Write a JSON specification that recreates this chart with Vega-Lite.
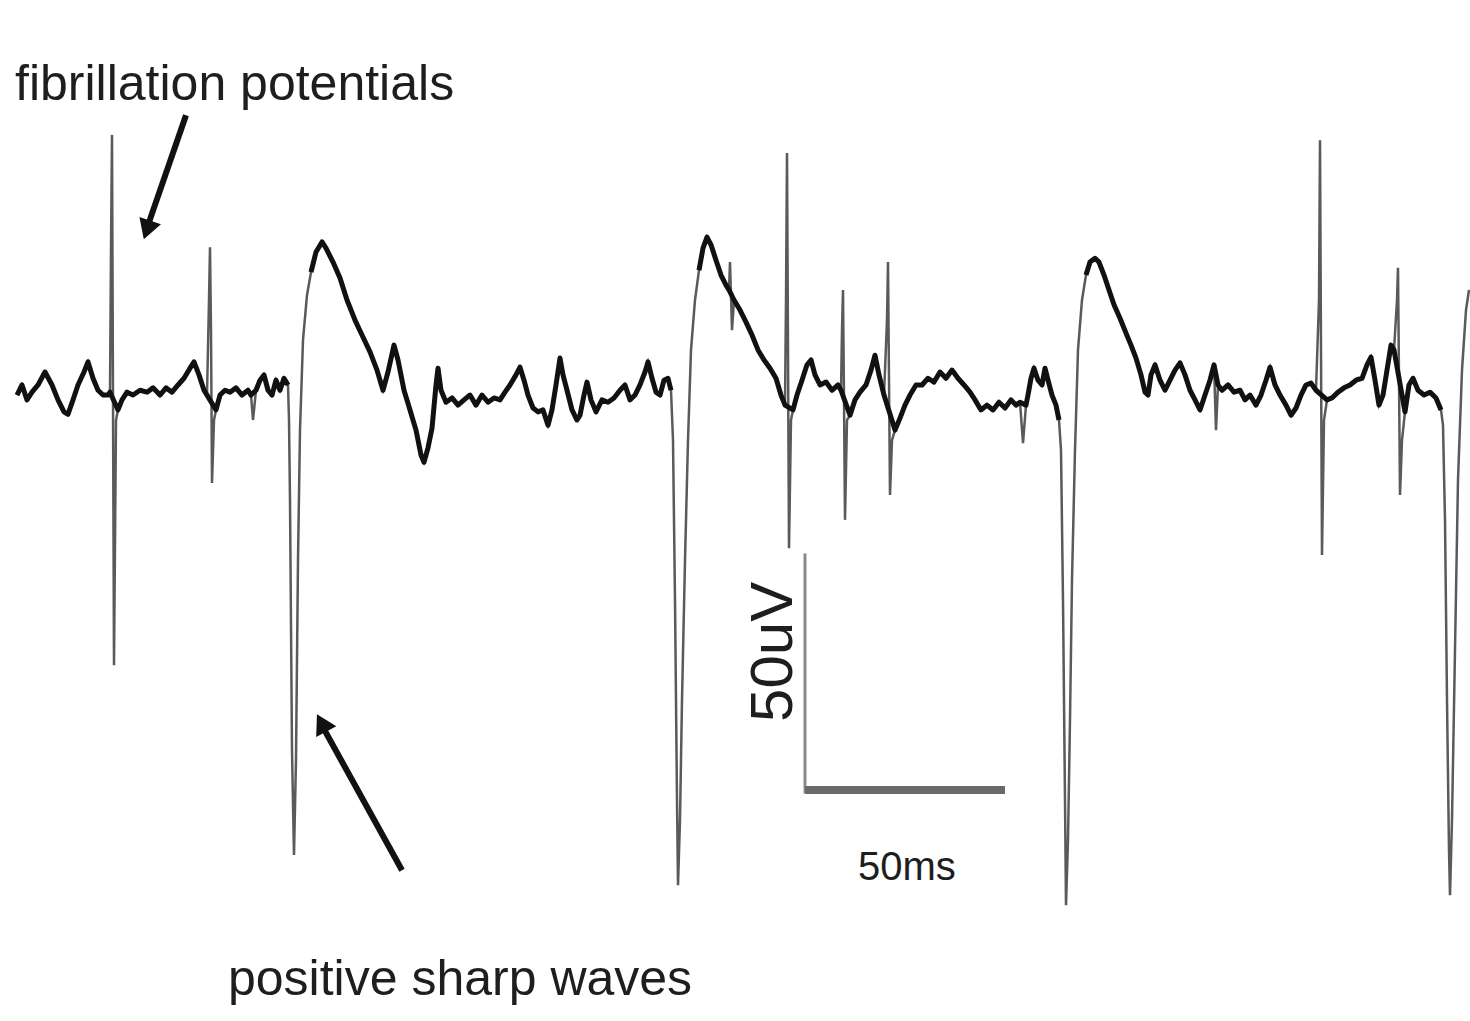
{
  "$schema": "https://vega.github.io/schema/vega-lite/v6.json",
  "width": 1470,
  "height": 1021,
  "autosize": {"type": "fit", "contains": "padding"},
  "padding": 0,
  "background": "white",
  "config": {"view": {"stroke": null}},
  "datasets": {
    "trace": [
      {"t":4.25,"v":0,"phase":"slow","run":1},
      {"t":5.5,"v":2.1,"phase":"slow","run":1},
      {"t":6.75,"v":-1.0,"phase":"slow","run":1},
      {"t":8,"v":0.6,"phase":"slow","run":1},
      {"t":9.5,"v":2.1,"phase":"slow","run":1},
      {"t":11.25,"v":4.8,"phase":"slow","run":1},
      {"t":13,"v":2.1,"phase":"slow","run":1},
      {"t":14.5,"v":-1.0,"phase":"slow","run":1},
      {"t":16,"v":-3.5,"phase":"slow","run":1},
      {"t":17,"v":-4.0,"phase":"slow","run":1},
      {"t":18.25,"v":-1.0,"phase":"slow","run":1},
      {"t":19.5,"v":2.1,"phase":"slow","run":1},
      {"t":21,"v":4.8,"phase":"slow","run":1},
      {"t":22,"v":6.9,"phase":"slow","run":1},
      {"t":23.25,"v":3.5,"phase":"slow","run":1},
      {"t":24.5,"v":1.0,"phase":"slow","run":1},
      {"t":25.75,"v":0,"phase":"slow","run":1},
      {"t":27,"v":0,"phase":"slow","run":1},
      {"t":27.5,"v":0.6,"phase":"slow","run":1},
      {"t":27.75,"v":30.2,"phase":"fast","run":1},
      {"t":28,"v":54.2,"phase":"fast","run":1},
      {"t":28.25,"v":-1.0,"phase":"fast","run":1},
      {"t":28.5,"v":-56.3,"phase":"fast","run":1},
      {"t":29,"v":-5.2,"phase":"fast","run":1},
      {"t":29.5,"v":-3.1,"phase":"slow","run":1},
      {"t":30.5,"v":-1.0,"phase":"slow","run":1},
      {"t":31.75,"v":0.6,"phase":"slow","run":1},
      {"t":33.25,"v":0,"phase":"slow","run":1},
      {"t":35,"v":1.0,"phase":"slow","run":1},
      {"t":36.75,"v":0.6,"phase":"slow","run":1},
      {"t":38.25,"v":1.5,"phase":"slow","run":1},
      {"t":40,"v":0,"phase":"slow","run":1},
      {"t":41.5,"v":1.5,"phase":"slow","run":1},
      {"t":43,"v":0.6,"phase":"slow","run":1},
      {"t":44.5,"v":2.1,"phase":"slow","run":1},
      {"t":46,"v":3.5,"phase":"slow","run":1},
      {"t":47.5,"v":5.6,"phase":"slow","run":1},
      {"t":48.5,"v":6.9,"phase":"slow","run":1},
      {"t":49.75,"v":4.2,"phase":"slow","run":1},
      {"t":51,"v":1.0,"phase":"slow","run":1},
      {"t":51.75,"v":0,"phase":"slow","run":1},
      {"t":52.25,"v":19.8,"phase":"fast","run":1},
      {"t":52.5,"v":30.8,"phase":"fast","run":1},
      {"t":52.75,"v":13.5,"phase":"fast","run":1},
      {"t":53,"v":-18.3,"phase":"fast","run":1},
      {"t":53.5,"v":-5.2,"phase":"fast","run":1},
      {"t":54,"v":-3.1,"phase":"slow","run":1},
      {"t":55,"v":0,"phase":"slow","run":1},
      {"t":56.25,"v":1.0,"phase":"slow","run":1},
      {"t":57.5,"v":0.6,"phase":"slow","run":1},
      {"t":59,"v":1.5,"phase":"slow","run":1},
      {"t":60.5,"v":0,"phase":"slow","run":1},
      {"t":62,"v":1.0,"phase":"slow","run":1},
      {"t":62.75,"v":0,"phase":"slow","run":1},
      {"t":63.25,"v":-5.2,"phase":"fast","run":1},
      {"t":64,"v":1.0,"phase":"slow","run":1},
      {"t":65,"v":3.1,"phase":"slow","run":1},
      {"t":66,"v":4.2,"phase":"slow","run":1},
      {"t":67,"v":1.0,"phase":"slow","run":1},
      {"t":68,"v":0,"phase":"slow","run":1},
      {"t":69,"v":3.1,"phase":"slow","run":1},
      {"t":70,"v":1.0,"phase":"slow","run":1},
      {"t":71,"v":3.5,"phase":"slow","run":1},
      {"t":72,"v":2.1,"phase":"slow","run":1},
      {"t":72.25,"v":-5.2,"phase":"fast","run":1},
      {"t":72.5,"v":-21.9,"phase":"fast","run":1},
      {"t":73,"v":-74.0,"phase":"fast","run":1},
      {"t":73.5,"v":-95.8,"phase":"fast","run":1},
      {"t":74,"v":-76.0,"phase":"fast","run":1},
      {"t":74.5,"v":-34.4,"phase":"fast","run":1},
      {"t":75,"v":-7.3,"phase":"fast","run":1},
      {"t":75.75,"v":11.5,"phase":"fast","run":1},
      {"t":76.75,"v":20.8,"phase":"fast","run":1},
      {"t":77.75,"v":25.6,"phase":"slow","run":2},
      {"t":79,"v":29.8,"phase":"slow","run":2},
      {"t":80.5,"v":31.9,"phase":"slow","run":2},
      {"t":81.5,"v":30.6,"phase":"slow","run":2},
      {"t":83.25,"v":27.7,"phase":"slow","run":2},
      {"t":85,"v":24.4,"phase":"slow","run":2},
      {"t":86.75,"v":19.8,"phase":"slow","run":2},
      {"t":88.75,"v":15.6,"phase":"slow","run":2},
      {"t":90.5,"v":12.5,"phase":"slow","run":2},
      {"t":92.5,"v":9.0,"phase":"slow","run":2},
      {"t":94.25,"v":5.2,"phase":"slow","run":2},
      {"t":95.75,"v":1.0,"phase":"slow","run":2},
      {"t":97,"v":4.8,"phase":"slow","run":2},
      {"t":98.5,"v":10.4,"phase":"slow","run":2},
      {"t":99.5,"v":7.3,"phase":"slow","run":2},
      {"t":101,"v":1.0,"phase":"slow","run":2},
      {"t":102.5,"v":-3.1,"phase":"slow","run":2},
      {"t":104,"v":-7.3,"phase":"slow","run":2},
      {"t":105.25,"v":-12.5,"phase":"slow","run":2},
      {"t":106,"v":-14.0,"phase":"slow","run":2},
      {"t":107,"v":-11.0,"phase":"slow","run":2},
      {"t":108,"v":-6.9,"phase":"slow","run":2},
      {"t":109,"v":2.1,"phase":"slow","run":2},
      {"t":109.5,"v":5.6,"phase":"slow","run":2},
      {"t":110.25,"v":1.0,"phase":"slow","run":2},
      {"t":111.5,"v":-1.5,"phase":"slow","run":2},
      {"t":113,"v":-0.6,"phase":"slow","run":2},
      {"t":114.5,"v":-2.1,"phase":"slow","run":2},
      {"t":116,"v":-1.0,"phase":"slow","run":2},
      {"t":117.5,"v":0,"phase":"slow","run":2},
      {"t":119,"v":-2.1,"phase":"slow","run":2},
      {"t":120.5,"v":0,"phase":"slow","run":2},
      {"t":122,"v":-1.5,"phase":"slow","run":2},
      {"t":123.5,"v":-0.6,"phase":"slow","run":2},
      {"t":125,"v":-1.0,"phase":"slow","run":2},
      {"t":126.25,"v":0.6,"phase":"slow","run":2},
      {"t":127.5,"v":2.1,"phase":"slow","run":2},
      {"t":129,"v":4.2,"phase":"slow","run":2},
      {"t":130,"v":5.8,"phase":"slow","run":2},
      {"t":131,"v":3.1,"phase":"slow","run":2},
      {"t":132,"v":0,"phase":"slow","run":2},
      {"t":133.25,"v":-2.7,"phase":"slow","run":2},
      {"t":134.5,"v":-3.5,"phase":"slow","run":2},
      {"t":135.75,"v":-3.1,"phase":"slow","run":2},
      {"t":137,"v":-6.3,"phase":"slow","run":2},
      {"t":138,"v":-3.1,"phase":"slow","run":2},
      {"t":139,"v":2.1,"phase":"slow","run":2},
      {"t":140,"v":7.7,"phase":"slow","run":2},
      {"t":140.75,"v":4.2,"phase":"slow","run":2},
      {"t":141.75,"v":1.0,"phase":"slow","run":2},
      {"t":143,"v":-3.1,"phase":"slow","run":2},
      {"t":144.25,"v":-5.2,"phase":"slow","run":2},
      {"t":145,"v":-4.2,"phase":"slow","run":2},
      {"t":146,"v":0,"phase":"slow","run":2},
      {"t":146.75,"v":2.7,"phase":"slow","run":2},
      {"t":147.75,"v":-1.0,"phase":"slow","run":2},
      {"t":149,"v":-3.5,"phase":"slow","run":2},
      {"t":150.5,"v":-1.0,"phase":"slow","run":2},
      {"t":152,"v":-1.5,"phase":"slow","run":2},
      {"t":153.5,"v":-0.6,"phase":"slow","run":2},
      {"t":155,"v":1.0,"phase":"slow","run":2},
      {"t":156.25,"v":2.1,"phase":"slow","run":2},
      {"t":157.5,"v":-1.0,"phase":"slow","run":2},
      {"t":158.75,"v":0,"phase":"slow","run":2},
      {"t":160,"v":2.1,"phase":"slow","run":2},
      {"t":161.25,"v":4.8,"phase":"slow","run":2},
      {"t":162,"v":6.9,"phase":"slow","run":2},
      {"t":163,"v":3.5,"phase":"slow","run":2},
      {"t":164,"v":0.6,"phase":"slow","run":2},
      {"t":165,"v":0,"phase":"slow","run":2},
      {"t":166,"v":3.1,"phase":"slow","run":2},
      {"t":167,"v":3.5,"phase":"slow","run":2},
      {"t":167.75,"v":1.0,"phase":"slow","run":2},
      {"t":168.25,"v":-9.4,"phase":"fast","run":2},
      {"t":168.75,"v":-42.7,"phase":"fast","run":2},
      {"t":169.25,"v":-84.4,"phase":"fast","run":2},
      {"t":169.5,"v":-102.1,"phase":"fast","run":2},
      {"t":170,"v":-88.5,"phase":"fast","run":2},
      {"t":170.5,"v":-63.5,"phase":"fast","run":2},
      {"t":171.25,"v":-34.4,"phase":"fast","run":2},
      {"t":172,"v":-9.4,"phase":"fast","run":2},
      {"t":172.75,"v":9.4,"phase":"fast","run":2},
      {"t":173.75,"v":19.8,"phase":"fast","run":2},
      {"t":174.75,"v":26.0,"phase":"slow","run":3},
      {"t":175.75,"v":30.6,"phase":"slow","run":3},
      {"t":176.75,"v":32.9,"phase":"slow","run":3},
      {"t":177.75,"v":31.3,"phase":"slow","run":3},
      {"t":179,"v":28.1,"phase":"slow","run":3},
      {"t":180.25,"v":25.0,"phase":"slow","run":3},
      {"t":181.5,"v":22.9,"phase":"slow","run":3},
      {"t":182.25,"v":21.9,"phase":"slow","run":3},
      {"t":182.5,"v":27.7,"phase":"fast","run":3},
      {"t":183,"v":13.5,"phase":"fast","run":3},
      {"t":183.5,"v":19.8,"phase":"slow","run":3},
      {"t":185,"v":17.7,"phase":"slow","run":3},
      {"t":186.5,"v":15.2,"phase":"slow","run":3},
      {"t":188,"v":12.5,"phase":"slow","run":3},
      {"t":189.5,"v":9.4,"phase":"slow","run":3},
      {"t":191,"v":7.3,"phase":"slow","run":3},
      {"t":192.5,"v":5.6,"phase":"slow","run":3},
      {"t":194,"v":3.5,"phase":"slow","run":3},
      {"t":195.25,"v":0,"phase":"slow","run":3},
      {"t":196.25,"v":-2.1,"phase":"slow","run":3},
      {"t":196.5,"v":19.8,"phase":"fast","run":3},
      {"t":196.75,"v":50.4,"phase":"fast","run":3},
      {"t":197,"v":9.4,"phase":"fast","run":3},
      {"t":197.25,"v":-31.9,"phase":"fast","run":3},
      {"t":197.75,"v":-5.2,"phase":"fast","run":3},
      {"t":198.25,"v":-3.1,"phase":"slow","run":3},
      {"t":199.25,"v":0,"phase":"slow","run":3},
      {"t":200.5,"v":3.1,"phase":"slow","run":3},
      {"t":201.75,"v":6.3,"phase":"slow","run":3},
      {"t":202.75,"v":7.3,"phase":"slow","run":3},
      {"t":203.75,"v":4.2,"phase":"slow","run":3},
      {"t":205,"v":2.1,"phase":"slow","run":3},
      {"t":206.5,"v":2.7,"phase":"slow","run":3},
      {"t":208,"v":1.0,"phase":"slow","run":3},
      {"t":209.5,"v":2.1,"phase":"slow","run":3},
      {"t":210.25,"v":1.0,"phase":"slow","run":3},
      {"t":210.5,"v":13.5,"phase":"fast","run":3},
      {"t":210.75,"v":21.9,"phase":"fast","run":3},
      {"t":211,"v":-1.0,"phase":"fast","run":3},
      {"t":211.25,"v":-26.0,"phase":"fast","run":3},
      {"t":211.75,"v":-5.2,"phase":"fast","run":3},
      {"t":212.5,"v":-4.2,"phase":"slow","run":3},
      {"t":213.75,"v":-1.0,"phase":"slow","run":3},
      {"t":215,"v":0.6,"phase":"slow","run":3},
      {"t":216.5,"v":2.1,"phase":"slow","run":3},
      {"t":217.75,"v":5.2,"phase":"slow","run":3},
      {"t":218.75,"v":8.3,"phase":"slow","run":3},
      {"t":219.75,"v":4.2,"phase":"slow","run":3},
      {"t":221,"v":0,"phase":"slow","run":3},
      {"t":221.75,"v":15.6,"phase":"fast","run":3},
      {"t":222,"v":27.7,"phase":"fast","run":3},
      {"t":222.25,"v":3.1,"phase":"fast","run":3},
      {"t":222.5,"v":-20.8,"phase":"fast","run":3},
      {"t":223,"v":-9.4,"phase":"fast","run":3},
      {"t":223.75,"v":-7.3,"phase":"slow","run":3},
      {"t":225,"v":-4.8,"phase":"slow","run":3},
      {"t":226.25,"v":-2.1,"phase":"slow","run":3},
      {"t":227.5,"v":0,"phase":"slow","run":3},
      {"t":229,"v":2.1,"phase":"slow","run":3},
      {"t":230.5,"v":2.1,"phase":"slow","run":3},
      {"t":232,"v":3.5,"phase":"slow","run":3},
      {"t":233.5,"v":2.7,"phase":"slow","run":3},
      {"t":235,"v":4.8,"phase":"slow","run":3},
      {"t":236.5,"v":3.5,"phase":"slow","run":3},
      {"t":238,"v":5.2,"phase":"slow","run":3},
      {"t":239.5,"v":3.5,"phase":"slow","run":3},
      {"t":241,"v":2.1,"phase":"slow","run":3},
      {"t":242.5,"v":0.6,"phase":"slow","run":3},
      {"t":243.75,"v":-1.0,"phase":"slow","run":3},
      {"t":245.25,"v":-3.1,"phase":"slow","run":3},
      {"t":246.75,"v":-2.1,"phase":"slow","run":3},
      {"t":248.25,"v":-3.1,"phase":"slow","run":3},
      {"t":249.75,"v":-1.5,"phase":"slow","run":3},
      {"t":251.25,"v":-2.7,"phase":"slow","run":3},
      {"t":252.75,"v":-1.0,"phase":"slow","run":3},
      {"t":254,"v":-2.1,"phase":"slow","run":3},
      {"t":255,"v":-1.5,"phase":"slow","run":3},
      {"t":255.75,"v":-10.0,"phase":"fast","run":3},
      {"t":256.5,"v":-2.1,"phase":"slow","run":3},
      {"t":257,"v":0,"phase":"slow","run":3},
      {"t":257.75,"v":3.5,"phase":"slow","run":3},
      {"t":258.5,"v":5.6,"phase":"slow","run":3},
      {"t":259.5,"v":3.1,"phase":"slow","run":3},
      {"t":260.5,"v":2.1,"phase":"slow","run":3},
      {"t":261.25,"v":5.6,"phase":"slow","run":3},
      {"t":262,"v":3.1,"phase":"slow","run":3},
      {"t":263,"v":0,"phase":"slow","run":3},
      {"t":264,"v":-2.1,"phase":"slow","run":3},
      {"t":264.75,"v":-5.2,"phase":"slow","run":3},
      {"t":265.25,"v":-11.5,"phase":"fast","run":3},
      {"t":265.75,"v":-42.7,"phase":"fast","run":3},
      {"t":266.25,"v":-84.4,"phase":"fast","run":3},
      {"t":266.5,"v":-106.3,"phase":"fast","run":3},
      {"t":267,"v":-92.7,"phase":"fast","run":3},
      {"t":267.5,"v":-67.7,"phase":"fast","run":3},
      {"t":268,"v":-38.5,"phase":"fast","run":3},
      {"t":268.75,"v":-11.5,"phase":"fast","run":3},
      {"t":269.5,"v":9.4,"phase":"fast","run":3},
      {"t":270.5,"v":19.8,"phase":"fast","run":3},
      {"t":271.5,"v":25.0,"phase":"slow","run":4},
      {"t":272.5,"v":27.7,"phase":"slow","run":4},
      {"t":273.75,"v":28.5,"phase":"slow","run":4},
      {"t":274.75,"v":27.7,"phase":"slow","run":4},
      {"t":276,"v":25.0,"phase":"slow","run":4},
      {"t":277.25,"v":21.9,"phase":"slow","run":4},
      {"t":278.5,"v":18.8,"phase":"slow","run":4},
      {"t":280,"v":16.0,"phase":"slow","run":4},
      {"t":281.5,"v":12.9,"phase":"slow","run":4},
      {"t":282.75,"v":10.4,"phase":"slow","run":4},
      {"t":284,"v":7.7,"phase":"slow","run":4},
      {"t":285.25,"v":4.2,"phase":"slow","run":4},
      {"t":286.25,"v":0.6,"phase":"slow","run":4},
      {"t":287,"v":0,"phase":"slow","run":4},
      {"t":287.75,"v":4.2,"phase":"slow","run":4},
      {"t":288.75,"v":6.3,"phase":"slow","run":4},
      {"t":290,"v":3.1,"phase":"slow","run":4},
      {"t":291.25,"v":1.0,"phase":"slow","run":4},
      {"t":292.5,"v":3.1,"phase":"slow","run":4},
      {"t":293.75,"v":5.2,"phase":"slow","run":4},
      {"t":295,"v":6.7,"phase":"slow","run":4},
      {"t":296.25,"v":4.2,"phase":"slow","run":4},
      {"t":297.5,"v":1.0,"phase":"slow","run":4},
      {"t":298.75,"v":-1.0,"phase":"slow","run":4},
      {"t":300,"v":-3.1,"phase":"slow","run":4},
      {"t":301.25,"v":0,"phase":"slow","run":4},
      {"t":302.5,"v":3.1,"phase":"slow","run":4},
      {"t":303.5,"v":6.3,"phase":"slow","run":4},
      {"t":304,"v":-7.3,"phase":"fast","run":4},
      {"t":304.5,"v":2.1,"phase":"slow","run":4},
      {"t":305.5,"v":1.0,"phase":"slow","run":4},
      {"t":307,"v":2.1,"phase":"slow","run":4},
      {"t":308.5,"v":0.6,"phase":"slow","run":4},
      {"t":310,"v":1.0,"phase":"slow","run":4},
      {"t":311.25,"v":-1.0,"phase":"slow","run":4},
      {"t":312.5,"v":0,"phase":"slow","run":4},
      {"t":314,"v":-2.1,"phase":"slow","run":4},
      {"t":315.25,"v":0,"phase":"slow","run":4},
      {"t":316.5,"v":3.1,"phase":"slow","run":4},
      {"t":317.5,"v":5.8,"phase":"slow","run":4},
      {"t":318.75,"v":2.1,"phase":"slow","run":4},
      {"t":320,"v":0,"phase":"slow","run":4},
      {"t":321.5,"v":-2.1,"phase":"slow","run":4},
      {"t":322.75,"v":-4.2,"phase":"slow","run":4},
      {"t":324,"v":-2.7,"phase":"slow","run":4},
      {"t":325.25,"v":0,"phase":"slow","run":4},
      {"t":326.5,"v":2.1,"phase":"slow","run":4},
      {"t":327.75,"v":2.5,"phase":"slow","run":4},
      {"t":329,"v":1.0,"phase":"slow","run":4},
      {"t":329.75,"v":19.8,"phase":"fast","run":4},
      {"t":330,"v":53.1,"phase":"fast","run":4},
      {"t":330.25,"v":9.4,"phase":"fast","run":4},
      {"t":330.5,"v":-33.3,"phase":"fast","run":4},
      {"t":331,"v":-5.2,"phase":"fast","run":4},
      {"t":331.75,"v":-1.0,"phase":"slow","run":4},
      {"t":333,"v":-0.6,"phase":"slow","run":4},
      {"t":334.5,"v":0.6,"phase":"slow","run":4},
      {"t":336,"v":1.5,"phase":"slow","run":4},
      {"t":337.5,"v":2.1,"phase":"slow","run":4},
      {"t":339,"v":3.1,"phase":"slow","run":4},
      {"t":340.5,"v":3.5,"phase":"slow","run":4},
      {"t":341.75,"v":6.3,"phase":"slow","run":4},
      {"t":342.75,"v":7.9,"phase":"slow","run":4},
      {"t":343.75,"v":3.1,"phase":"slow","run":4},
      {"t":344.75,"v":-2.1,"phase":"slow","run":4},
      {"t":345.75,"v":0,"phase":"slow","run":4},
      {"t":346.75,"v":5.2,"phase":"slow","run":4},
      {"t":347.75,"v":10.4,"phase":"slow","run":4},
      {"t":348.5,"v":9.4,"phase":"slow","run":4},
      {"t":349.25,"v":19.8,"phase":"fast","run":4},
      {"t":349.5,"v":26.5,"phase":"fast","run":4},
      {"t":349.75,"v":3.1,"phase":"fast","run":4},
      {"t":350,"v":-20.8,"phase":"fast","run":4},
      {"t":350.5,"v":-9.4,"phase":"fast","run":4},
      {"t":351.25,"v":-3.5,"phase":"slow","run":4},
      {"t":352.25,"v":2.1,"phase":"slow","run":4},
      {"t":353.25,"v":3.5,"phase":"slow","run":4},
      {"t":354.5,"v":1.0,"phase":"slow","run":4},
      {"t":356,"v":0,"phase":"slow","run":4},
      {"t":357.5,"v":0.6,"phase":"slow","run":4},
      {"t":359,"v":-0.6,"phase":"slow","run":4},
      {"t":360.25,"v":-3.1,"phase":"slow","run":4},
      {"t":360.75,"v":-6.3,"phase":"fast","run":4},
      {"t":361.25,"v":-26.0,"phase":"fast","run":4},
      {"t":361.75,"v":-63.5,"phase":"fast","run":4},
      {"t":362.25,"v":-94.8,"phase":"fast","run":4},
      {"t":362.5,"v":-104.2,"phase":"fast","run":4},
      {"t":363,"v":-88.5,"phase":"fast","run":4},
      {"t":363.75,"v":-53.1,"phase":"fast","run":4},
      {"t":364.5,"v":-17.7,"phase":"fast","run":4},
      {"t":365.5,"v":5.2,"phase":"fast","run":4},
      {"t":366.5,"v":17.7,"phase":"fast","run":4},
      {"t":367.25,"v":21.9,"phase":"fast","run":4}
    ],
    "arrows": [
      {"arrow":"fibrillation","t":46.5,"v":58.3},
      {"arrow":"fibrillation","t":37.0,"v":35.4},
      {"arrow":"sharp","t":100.5,"v":-99.0},
      {"arrow":"sharp","t":80.6,"v":-69.0}
    ],
    "heads": [
      {"arrow":"fibrillation","t":36.75,"v":34.4},
      {"arrow":"sharp","t":80.4,"v":-68.3}
    ],
    "scalebar": [
      {"bar":"amplitude","t":201.25,"v":-33},
      {"bar":"amplitude","t":201.25,"v":-83},
      {"bar":"time","t":201.25,"v":-82.3},
      {"bar":"time","t":251.25,"v":-82.3}
    ]
  },
  "encoding": {
    "x": {"field": "t", "type": "quantitative", "axis": null, "scale": {"domain": [0, 367.5], "nice": false, "zero": false}},
    "y": {"field": "v", "type": "quantitative", "axis": null, "scale": {"domain": [-130.4, 82.3], "nice": false, "zero": false}}
  },
  "layer": [
    {
      "data": {"name": "trace"},
      "mark": {"type": "line", "color": "#5a5a5a", "strokeWidth": 2.5, "clip": true},
      "encoding": {}
    },
    {
      "data": {"name": "trace"},
      "transform": [{"filter": "datum.phase === 'slow'"}],
      "mark": {"type": "line", "color": "#111111", "strokeWidth": 5, "strokeJoin": "round", "clip": true},
      "encoding": {"detail": {"field": "run", "type": "nominal"}}
    },
    {
      "data": {"name": "scalebar"},
      "transform": [{"filter": "datum.bar === 'amplitude'"}],
      "mark": {"type": "line", "color": "#8a8a8a", "strokeWidth": 3},
      "encoding": {}
    },
    {
      "data": {"name": "scalebar"},
      "transform": [{"filter": "datum.bar === 'time'"}],
      "mark": {"type": "line", "color": "#6a6a6a", "strokeWidth": 8},
      "encoding": {}
    },
    {
      "data": {"name": "arrows"},
      "mark": {"type": "line", "color": "#111111", "strokeWidth": 6},
      "encoding": {"detail": {"field": "arrow", "type": "nominal"}}
    },
    {
      "data": {"name": "heads"},
      "transform": [{"filter": "datum.arrow === 'fibrillation'"}],
      "mark": {"type": "point", "shape": "triangle-up", "filled": true, "color": "#111111", "opacity": 1, "size": 520, "angle": 199},
      "encoding": {}
    },
    {
      "data": {"name": "heads"},
      "transform": [{"filter": "datum.arrow === 'sharp'"}],
      "mark": {"type": "point", "shape": "triangle-up", "filled": true, "color": "#111111", "opacity": 1, "size": 520, "angle": 332},
      "encoding": {}
    },
    {
      "data": {"values": [{"label": "fibrillation potentials", "t": 3.75, "v": 61.5}]},
      "mark": {"type": "text", "align": "left", "baseline": "alphabetic", "font": "Liberation Sans", "fontSize": 50, "color": "#1e1e1e"},
      "encoding": {"text": {"field": "label"}}
    },
    {
      "data": {"values": [{"label": "positive sharp waves", "t": 57, "v": -125}]},
      "mark": {"type": "text", "align": "left", "baseline": "alphabetic", "font": "Liberation Sans", "fontSize": 50, "color": "#1e1e1e"},
      "encoding": {"text": {"field": "label"}}
    },
    {
      "data": {"values": [{"label": "50ms", "t": 214.5, "v": -101}]},
      "mark": {"type": "text", "align": "left", "baseline": "alphabetic", "font": "Liberation Sans", "fontSize": 40, "color": "#1e1e1e"},
      "encoding": {"text": {"field": "label"}}
    },
    {
      "data": {"values": [{"label": "50uV", "t": 193.5, "v": -53.5}]},
      "mark": {"type": "text", "align": "center", "baseline": "middle", "angle": 270, "font": "Liberation Sans", "fontSize": 60, "color": "#1e1e1e"},
      "encoding": {"text": {"field": "label"}}
    }
  ]
}
